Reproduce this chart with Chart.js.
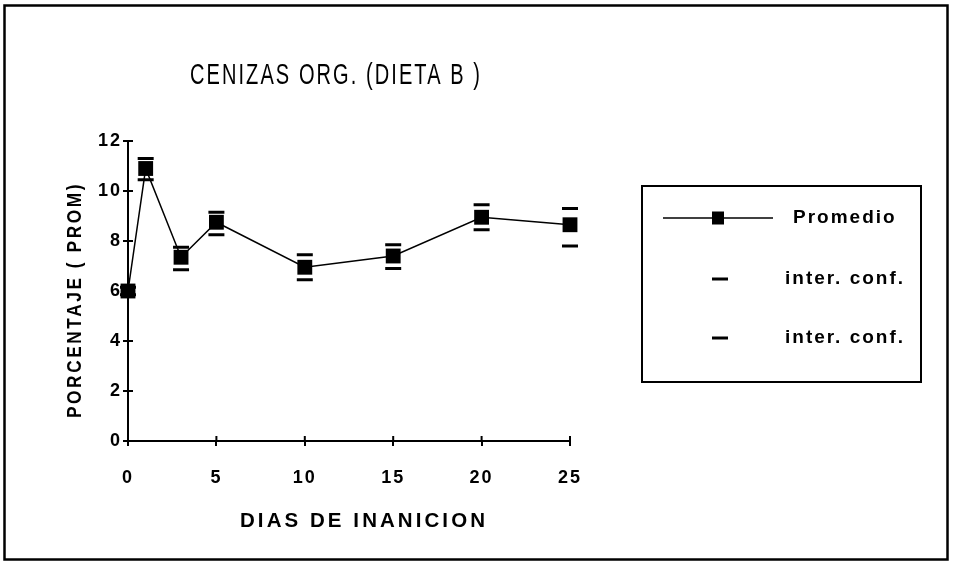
<!DOCTYPE html>
<html><head><meta charset="utf-8">
<script src="https://cdn.jsdelivr.net/npm/chart.js@4/dist/chart.umd.min.js"></script>
<style>html,body{margin:0;padding:0;background:#fff;overflow:hidden}canvas{display:block}</style>
</head><body>
<canvas id="c" width="953" height="565"></canvas>
<script>
const TITLE = 'CENIZAS ORG. (DIETA B )';
const X_TITLE = 'DIAS DE INANICION';
const Y_TITLE = 'PORCENTAJE ( PROM)';
const seriesLabels = ['Promedio', 'inter. conf.', 'inter. conf.'];
const days = [0, 1, 3, 5, 10, 15, 20, 25];
const promedio = [6.0, 10.9, 7.35, 8.75, 6.95, 7.4, 8.95, 8.65];
const icSup = [6.15, 11.3, 7.75, 9.15, 7.45, 7.85, 9.45, 9.3];
const icInf = [5.85, 10.45, 6.85, 8.25, 6.45, 6.9, 8.45, 7.8];
const xTicks = [0, 5, 10, 15, 20, 25];
const yTicks = [0, 2, 4, 6, 8, 10, 12];

const FONT = '"Liberation Sans", Arial, sans-serif';

function fitText(ctx, txt, x, y, font, spacing, targetW, rot) {
  ctx.save();
  ctx.font = font;
  ctx.letterSpacing = spacing + 'px';
  const w = ctx.measureText(txt).width;
  const sx = targetW ? targetW / w : 1;
  ctx.translate(x, y);
  if (rot) ctx.rotate(rot);
  ctx.scale(sx, 1);
  ctx.textAlign = 'left';
  ctx.textBaseline = 'alphabetic';
  ctx.fillStyle = '#000';
  ctx.fillText(txt, -w / 2, 0);
  ctx.restore();
}

const decor = {
  id: 'decor',
  beforeDraw(chart) {
    const ctx = chart.ctx;
    ctx.save();
    ctx.fillStyle = '#fff';
    ctx.fillRect(0, 0, chart.width, chart.height);
    ctx.restore();
    ctx.letterSpacing = '2px';
  },
  afterDraw(chart) {
    const ctx = chart.ctx;
    const a = chart.chartArea;
    const xs = chart.scales.x, ys = chart.scales.y;
    ctx.save();
    ctx.letterSpacing = '0px';
    // outer frame
    ctx.strokeStyle = '#000';
    ctx.lineWidth = 2.5;
    ctx.strokeRect(4.5, 5.5, 943, 554);
    // inner halves of the crossing tick marks
    ctx.lineWidth = 2;
    ctx.beginPath();
    ys.ticks.forEach(t => { const y = ys.getPixelForValue(t.value); ctx.moveTo(a.left, y); ctx.lineTo(a.left + 5, y); });
    xs.ticks.forEach(t => { const x = xs.getPixelForValue(t.value); ctx.moveTo(x, a.bottom); ctx.lineTo(x, a.bottom - 5); });
    ctx.stroke();
    // titles
    fitText(ctx, TITLE, 336, 84, '29px ' + FONT, 3, 292, 0);
    fitText(ctx, X_TITLE, 364, 527, 'bold 20px ' + FONT, 3, 248, 0);
    fitText(ctx, Y_TITLE, 81, 300, 'bold 20px ' + FONT, 3, 236, -Math.PI / 2);
    // legend box
    ctx.lineWidth = 2;
    ctx.strokeRect(642, 186, 279, 196);
    const ds = chart.data.datasets;
    const rows = [218, 279, 338];
    // Promedio sample
    ctx.strokeStyle = ds[0].borderColor;
    ctx.lineWidth = 1.5;
    ctx.beginPath(); ctx.moveTo(663, rows[0]); ctx.lineTo(773, rows[0]); ctx.stroke();
    ctx.fillStyle = ds[0].backgroundColor;
    ctx.fillRect(712, rows[0] - 6.5, 12, 13);
    // inter. conf. samples
    for (let i = 1; i < 3; i++) {
      ctx.strokeStyle = ds[i].borderColor;
      ctx.lineWidth = 3;
      ctx.beginPath(); ctx.moveTo(712, rows[i]); ctx.lineTo(728, rows[i]); ctx.stroke();
    }
    ctx.fillStyle = '#000';
    ctx.textBaseline = 'middle';
    ctx.textAlign = 'left';
    ctx.font = 'bold 19px ' + FONT;
    ctx.letterSpacing = '2px';
    ctx.fillText(ds[0].label, 793, rows[0]);
    ctx.fillText(ds[1].label, 785, rows[1]);
    ctx.fillText(ds[2].label, 785, rows[2]);
    ctx.restore();
  }
};

const toPts = arr => days.map((d, i) => ({ x: d, y: arr[i] }));

new Chart(document.getElementById('c'), {
  type: 'line',
  data: {
    datasets: [
      { label: seriesLabels[0], data: toPts(promedio), borderColor: '#000', backgroundColor: '#000',
        borderWidth: 1.5, pointStyle: 'rect', pointRadius: 10.5, pointBorderWidth: 0,
        pointBackgroundColor: '#000', tension: 0, clip: false, order: 0 },
      { label: seriesLabels[1], data: toPts(icSup), showLine: false, borderColor: '#000', backgroundColor: '#000',
        pointStyle: 'line', pointRadius: 8, pointBorderWidth: 3, borderWidth: 3, clip: false, order: 1 },
      { label: seriesLabels[2], data: toPts(icInf), showLine: false, borderColor: '#000', backgroundColor: '#000',
        pointStyle: 'line', pointRadius: 8, pointBorderWidth: 3, borderWidth: 3, clip: false, order: 1 }
    ]
  },
  options: {
    responsive: false,
    animation: false,
    devicePixelRatio: 1,
    layout: { padding: { left: 0, top: 141, right: 383, bottom: 0 } },
    plugins: { legend: { display: false }, title: { display: false }, tooltip: { enabled: false } },
    scales: {
      x: {
        type: 'linear', min: 0, max: 25,
        afterBuildTicks: s => { s.ticks = xTicks.map(v => ({ value: v })); },
        afterFit: s => { s.height = 124; s.paddingLeft = 0; s.paddingRight = 0; },
        grid: { drawOnChartArea: false, color: '#000', lineWidth: 2, tickLength: 5 },
        border: { color: '#000', width: 2 },
        ticks: { color: '#000', padding: 21, maxRotation: 0, font: { family: FONT, size: 18, weight: 'bold' } }
      },
      y: {
        type: 'linear', min: 0, max: 12,
        afterBuildTicks: s => { s.ticks = yTicks.map(v => ({ value: v })); },
        afterFit: s => { s.width = 128; s.paddingTop = 0; s.paddingBottom = 0; },
        grid: { drawOnChartArea: false, color: '#000', lineWidth: 2, tickLength: 5 },
        border: { color: '#000', width: 2 },
        ticks: { color: '#000', padding: 1, font: { family: FONT, size: 18, weight: 'bold' } }
      }
    }
  },
  plugins: [decor]
});
</script>
</body></html>
